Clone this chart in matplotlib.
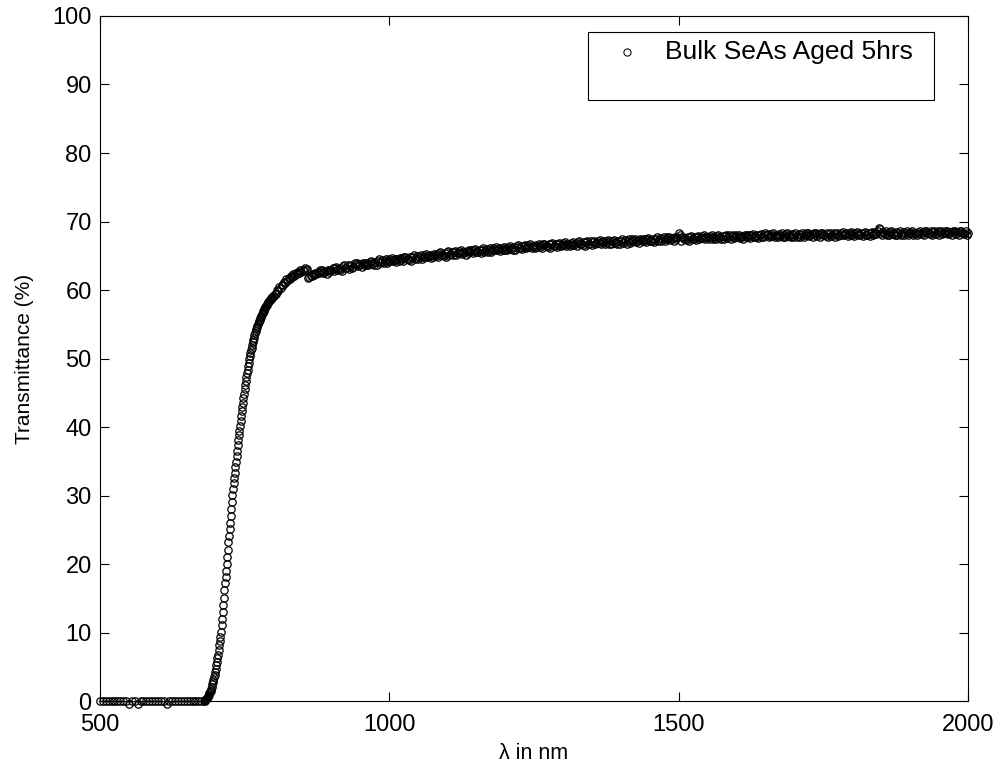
import numpy as np
import matplotlib
matplotlib.use('Agg')  # headless backend
import matplotlib.pyplot as plt
from matplotlib.patches import Rectangle

plt.rcParams['font.family'] = ['Liberation Sans', 'DejaVu Sans']

# wavelength grids (nm) - sampling is coarser in the dark region
wl_flat = np.arange(500, 681, 5)
wl_edge = np.arange(681, 801, 1)
wl_knee = np.arange(802, 859, 2)
wl_plat = np.arange(860, 2001, 2)

# transmittance (%)
t_flat = [0, 0, 0, 0, 0, 0, 0, 0, 0, 0,
          -0.3, 0, 0, -0.3, 0, 0, 0, 0, 0, 0,
          0, 0, 0, -0.3, 0, 0, 0, 0, 0, 0,
          0, 0, 0, 0, 0, 0, 0]

t_edge = [0.1, 0.2, 0.3, 0.4, 0.5, 0.6, 0.8, 1.0, 1.2, 1.4,
          1.6, 1.8, 2.1, 2.5, 2.8, 3.2, 3.6, 3.9, 4.3, 4.8,
          5.3, 5.8, 6.3, 6.8, 7.5, 8.2, 8.8, 9.4, 10.2, 11.1,
          12.0, 13.0, 14.1, 15.1, 16.2, 17.3, 18.2, 19.1, 20.1, 21.1,
          22.1, 23.2, 24.2, 25.2, 26.1, 27.1, 28.1, 29.1, 30.1, 31.0,
          31.8, 32.6, 33.4, 34.2, 35.0, 35.8, 36.6, 37.4, 38.1, 38.8,
          39.5, 40.2, 40.9, 41.6, 42.3, 43.0, 43.6, 44.3, 44.9, 45.6,
          46.2, 46.8, 47.4, 47.9, 48.4, 48.9, 49.4, 49.9, 50.4, 50.8,
          51.2, 51.6, 52.0, 52.4, 52.7, 53.0, 53.4, 53.7, 54.0, 54.3,
          54.6, 54.8, 55.1, 55.3, 55.5, 55.7, 55.9, 56.1, 56.3, 56.5,
          56.7, 56.9, 57.0, 57.2, 57.4, 57.5, 57.7, 57.8, 58.0, 58.1,
          58.2, 58.4, 58.5, 58.6, 58.7, 58.8, 58.9, 59.0, 59.1, 59.2]

t_knee = [59.5, 59.5, 60.0, 59.9, 60.4, 60.3, 60.8, 60.7, 61.2, 61.1,
          61.6, 61.4, 61.8, 61.7, 62.1, 61.9, 62.3, 62.1, 62.5, 62.3,
          62.7, 62.5, 62.9, 62.6, 63.0, 62.8, 63.2, 62.9, 63.1]

t_plat = [61.8, 61.9, 62.1, 62.0, 62.3, 62.2, 62.5, 62.3, 62.6, 62.5,
          62.9, 62.6, 63.0, 62.5, 62.7, 62.8, 62.4, 62.9, 62.6, 63.0,
          62.9, 63.2, 62.8, 63.3, 63.4, 63.0, 63.1, 62.9, 63.3, 62.8,
          63.5, 63.7, 63.2, 63.3, 63.6, 63.1, 63.5, 63.7, 63.2, 63.4,
          63.9, 63.6, 64.0, 63.5, 63.7, 63.8, 63.4, 63.9, 63.6, 64.0,
          63.7, 64.0, 63.6, 64.1, 64.2, 63.8, 63.9, 63.7, 64.1, 63.6,
          64.3, 64.5, 64.0, 64.1, 64.4, 63.9, 64.3, 64.5, 64.0, 64.2,
          64.6, 64.3, 64.7, 64.2, 64.4, 64.5, 64.1, 64.6, 64.3, 64.7,
          64.4, 64.7, 64.3, 64.8, 64.9, 64.5, 64.6, 64.4, 64.8, 64.3,
          64.9, 65.1, 64.6, 64.7, 65.0, 64.5, 64.9, 65.1, 64.6, 64.8,
          65.2, 64.9, 65.3, 64.8, 65.0, 65.1, 64.7, 65.2, 64.9, 65.3,
          65.0, 65.3, 64.9, 65.4, 65.5, 65.1, 65.2, 65.0, 65.4, 64.9,
          65.5, 65.7, 65.2, 65.3, 65.6, 65.1, 65.5, 65.7, 65.2, 65.4,
          65.7, 65.4, 65.8, 65.3, 65.5, 65.6, 65.2, 65.7, 65.4, 65.8,
          65.5, 65.8, 65.4, 65.9, 66.0, 65.6, 65.7, 65.5, 65.9, 65.4,
          65.9, 66.1, 65.6, 65.7, 66.0, 65.5, 65.9, 66.1, 65.6, 65.8,
          66.2, 65.9, 66.3, 65.8, 66.0, 66.1, 65.7, 66.2, 65.9, 66.3,
          65.9, 66.2, 65.8, 66.3, 66.4, 66.0, 66.1, 65.9, 66.3, 65.8,
          66.4, 66.6, 66.1, 66.2, 66.5, 66.0, 66.4, 66.6, 66.1, 66.3,
          66.6, 66.3, 66.7, 66.2, 66.4, 66.5, 66.1, 66.6, 66.3, 66.7,
          66.3, 66.6, 66.2, 66.7, 66.8, 66.4, 66.5, 66.3, 66.7, 66.2,
          66.7, 66.9, 66.4, 66.5, 66.8, 66.3, 66.7, 66.9, 66.4, 66.6,
          66.9, 66.6, 67.0, 66.5, 66.7, 66.8, 66.4, 66.9, 66.6, 67.0,
          66.6, 66.9, 66.5, 67.0, 67.1, 66.7, 66.8, 66.6, 67.0, 66.5,
          67.0, 67.2, 66.7, 66.8, 67.1, 66.6, 67.0, 67.2, 66.7, 66.9,
          67.2, 66.9, 67.3, 66.8, 67.0, 67.1, 66.7, 67.2, 66.9, 67.3,
          66.8, 67.1, 66.7, 67.2, 67.3, 66.9, 67.0, 66.8, 67.2, 66.7,
          67.2, 67.4, 66.9, 67.0, 67.3, 66.8, 67.2, 67.4, 66.9, 67.1,
          67.4, 67.1, 67.5, 67.0, 67.2, 67.3, 66.9, 67.4, 67.1, 67.5,
          67.1, 67.4, 67.0, 67.5, 67.6, 67.2, 67.3, 67.1, 67.5, 67.0,
          67.5, 67.7, 67.2, 67.3, 67.6, 67.1, 67.5, 67.7, 67.2, 67.4,
          67.7, 67.4, 67.8, 67.3, 67.5, 67.6, 67.2, 67.7, 67.4, 67.8,
          68.3, 68.1, 67.2, 67.7, 67.8, 67.4, 67.5, 67.3, 67.7, 67.2,
          67.7, 67.9, 67.4, 67.5, 67.8, 67.3, 67.7, 67.9, 67.4, 67.6,
          67.9, 67.6, 68.0, 67.5, 67.7, 67.8, 67.4, 67.9, 67.6, 68.0,
          67.5, 67.8, 67.4, 67.9, 68.0, 67.6, 67.7, 67.5, 67.9, 67.4,
          67.9, 68.1, 67.6, 67.7, 68.0, 67.5, 67.9, 68.1, 67.6, 67.8,
          68.0, 67.7, 68.1, 67.6, 67.8, 67.9, 67.5, 68.0, 67.7, 68.1,
          67.7, 68.0, 67.6, 68.1, 68.2, 67.8, 67.9, 67.7, 68.1, 67.6,
          68.0, 68.2, 67.7, 67.8, 68.1, 68.4, 68.0, 68.2, 67.7, 67.9,
          68.2, 67.9, 68.3, 67.8, 68.0, 68.1, 67.7, 68.2, 67.9, 68.3,
          67.8, 68.1, 67.7, 68.2, 68.3, 67.9, 68.0, 67.8, 68.2, 67.7,
          68.1, 68.3, 67.8, 67.9, 68.2, 67.7, 68.1, 68.3, 67.8, 68.0,
          68.3, 68.0, 68.4, 67.9, 68.1, 68.2, 67.8, 68.3, 68.0, 68.4,
          67.9, 68.2, 67.8, 68.3, 68.4, 68.0, 68.1, 67.9, 68.3, 67.8,
          68.2, 68.4, 67.9, 68.0, 68.3, 67.8, 68.2, 68.4, 67.9, 68.1,
          68.4, 68.1, 68.5, 68.0, 68.2, 68.3, 67.9, 68.4, 68.1, 68.5,
          68.0, 68.3, 67.9, 68.4, 68.5, 68.1, 68.2, 68.0, 68.4, 67.9,
          68.3, 68.5, 68.0, 68.1, 68.4, 67.9, 68.3, 68.5, 68.0, 68.2,
          68.5, 68.2, 68.6, 69.0, 68.9, 68.4, 68.0, 68.5, 68.2, 68.6,
          68.1, 68.4, 68.0, 68.5, 68.6, 68.2, 68.3, 68.1, 68.5, 68.0,
          68.4, 68.6, 68.1, 68.2, 68.5, 68.0, 68.4, 68.6, 68.1, 68.3,
          68.5, 68.2, 68.6, 68.1, 68.3, 68.4, 68.0, 68.5, 68.2, 68.6,
          68.2, 68.5, 68.1, 68.6, 68.7, 68.3, 68.4, 68.2, 68.6, 68.1,
          68.5, 68.7, 68.2, 68.3, 68.6, 68.1, 68.5, 68.7, 68.2, 68.4,
          68.6, 68.3, 68.7, 68.2, 68.4, 68.5, 68.1, 68.6, 68.3, 68.7,
          68.2, 68.5, 68.1, 68.6, 68.7, 68.3, 68.4, 68.2, 68.6, 68.1, 68.3]

wl = np.concatenate([wl_flat, wl_edge, wl_knee, wl_plat])
trans = np.concatenate([t_flat, t_edge, t_knee, t_plat])

fig = plt.figure(figsize=(10.01, 7.74), dpi=100)
ax = fig.add_axes([0.0999, 0.0937, 0.867, 0.8857])

# matlab does not clip markers at the axes edge
ax.plot(wl, trans, 'o', mfc='none', mec='k', ms=5.3, mew=0.9, clip_on=False)

ax.set_xlim(500, 2000)
ax.set_ylim(0, 100)
ax.set_xticks([500, 1000, 1500, 2000])
ax.set_yticks(np.arange(0, 101, 10))
ax.tick_params(direction='in', length=6.5, width=0.8, top=True, right=True,
               labelsize=17, pad=6)
ax.tick_params(axis='x', pad=9)
for s in ax.spines.values():
    s.set_linewidth(0.8)

ax.set_xlabel('λ in nm', fontsize=15.5, labelpad=5)
ax.set_ylabel('Transmittance (%)', fontsize=15, labelpad=13)

# legend drawn like the matlab one (box with spare room under the entry)
ax.add_patch(Rectangle((0.5626, 0.8775), 0.3982, 0.0987, transform=ax.transAxes,
                       fc='white', ec='k', lw=0.8, zorder=5))
ax.plot([0.6068], [0.9479], 'o', mfc='none', mec='k', ms=5.2, mew=0.75,
        transform=ax.transAxes, zorder=6, clip_on=False)
ax.text(0.6509, 0.9479, 'Bulk SeAs Aged 5hrs', transform=ax.transAxes,
        fontsize=19, va='center', ha='left', zorder=6)

plt.savefig('out.png', dpi=100)
